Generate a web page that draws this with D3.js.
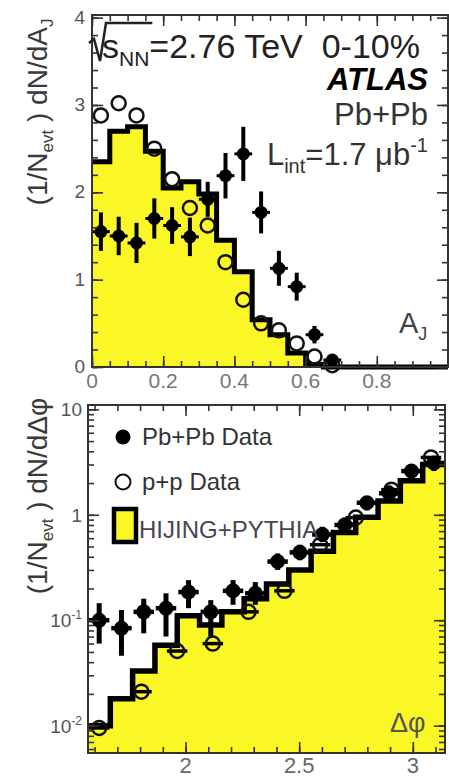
<!DOCTYPE html>
<html>
<head>
<meta charset="utf-8">
<script src="https://cdn.jsdelivr.net/npm/d3@7"></script>
<style>
  body { margin: 0; background: #fff; }
  text { font-family: "Liberation Sans", Arial, Helvetica, sans-serif; }
</style>
</head>
<body>
<svg id="vis" width="449" height="778"></svg>
<script>
// ---------- data: top panel, A_J ----------
var ajEdges = [0, 0.05, 0.1, 0.15, 0.2, 0.25, 0.3, 0.35, 0.4, 0.45, 0.5,
               0.55, 0.6, 0.65, 0.7, 0.75, 0.8, 0.85, 0.9, 0.95, 1.0];
var ajHijing = [2.35, 2.7, 2.75, 2.47, 2.05, 2.12, 1.98, 1.45, 1.09, 0.54, 0.37,
                0.16, 0.03, 0, 0, 0, 0, 0, 0, 0];
var ajCenters = [0.025, 0.075, 0.125, 0.175, 0.225, 0.275, 0.325, 0.375, 0.425,
                 0.475, 0.525, 0.575, 0.625, 0.675];
var ajPbPb    = [1.55, 1.5, 1.42, 1.7, 1.62, 1.49, 1.92, 2.19, 2.44, 1.77, 1.13, 0.92, 0.37, 0.08];
var ajPbPbErr = [0.22, 0.22, 0.23, 0.23, 0.21, 0.22, 0.2, 0.26, 0.31, 0.24, 0.2, 0.16, 0.1, 0.05];
var ajPP      = [2.88, 3.02, 2.88, 2.5, 2.15, 1.82, 1.62, 1.2, 0.77, 0.5, 0.42, 0.27, 0.12, 0.02];
var ajBinHalf = 0.025;
var ajXTicks = [0, 0.2, 0.4, 0.6, 0.8, 1.0];
var ajXLabels = ["0", "0.2", "0.4", "0.6", "0.8"];
var ajYTicks = [0, 1, 2, 3, 4];

// ---------- data: bottom panel, delta phi ----------
var dphiEdges = [1.5708, 1.6690, 1.7671, 1.8653, 1.9635, 2.0617, 2.1598, 2.2580, 2.3562,
                 2.4544, 2.5525, 2.6507, 2.7489, 2.8471, 2.9452, 3.0434, 3.1416];
var dphiHijing = [0.010, 0.018, 0.033, 0.058, 0.11, 0.09, 0.12, 0.16, 0.22, 0.30,
                  0.45, 0.68, 0.95, 1.35, 2.1, 3.0];
var dphiPbPbX  = [1.620, 1.718, 1.816, 1.914, 2.013, 2.111, 2.209, 2.307, 2.405, 2.503,
                  2.602, 2.700, 2.798, 2.896, 2.994, 3.093];
var dphiPbPb   = [0.10, 0.084, 0.12, 0.13, 0.185, 0.12, 0.19, 0.18, 0.36, 0.44,
                  0.65, 0.8, 1.3, 1.6, 2.6, 3.1];
var dphiPbPbLo = [0.06, 0.046, 0.075, 0.07, 0.13, 0.07, 0.14, 0.14, 0.30, 0.37,
                  0.55, 0.68, 1.1, 1.35, 2.2, 2.6];
var dphiPbPbHi = [0.145, 0.125, 0.16, 0.18, 0.24, 0.155, 0.24, 0.23, 0.43, 0.52,
                  0.77, 0.94, 1.5, 1.9, 3.0, 3.6];
var dphiPbPbHalf = 0.045;
var dphiPPX  = [1.62, 1.806, 1.963, 2.12, 2.277, 2.435, 2.592, 2.749, 2.906, 3.08];
var dphiPP   = [0.0095, 0.021, 0.051, 0.06, 0.12, 0.19, 0.52, 0.94, 1.73, 3.5];
var dphiPPHalf = 0.045;
var dphiXTicks = [2, 2.5, 3];
var dphiXLabels = ["2", "2.5", "3"];
var dphiYTicks = [0.01, 0.1, 1, 10];
var dphiYLabels = [["10", "-2"], ["10", "-1"], ["1", ""], ["10", ""]];

var yellow = "#fbf626";
var svg = d3.select("#vis");

// frame with inward ticks on all four sides
function frame(g, x, y, xMajor, xMinor, yMajor, yMinor) {
  var xr = x.range(), yr = y.range();
  function add(axis, tx, ty) {
    var a = g.append("g").attr("transform", "translate(" + tx + "," + ty + ")").call(axis);
    a.select(".domain").remove();
    a.selectAll("line").attr("stroke", "#333").attr("stroke-width", 1.6);
  }
  add(d3.axisBottom(x).tickValues(xMajor).tickSize(-11).tickFormat(""), 0, yr[0]);
  add(d3.axisBottom(x).tickValues(xMinor).tickSize(-6).tickFormat(""), 0, yr[0]);
  add(d3.axisTop(x).tickValues(xMajor).tickSize(-11).tickFormat(""), 0, yr[1]);
  add(d3.axisTop(x).tickValues(xMinor).tickSize(-6).tickFormat(""), 0, yr[1]);
  add(d3.axisLeft(y).tickValues(yMajor).tickSize(-11).tickFormat(""), xr[0], 0);
  add(d3.axisLeft(y).tickValues(yMinor).tickSize(-6).tickFormat(""), xr[0], 0);
  add(d3.axisRight(y).tickValues(yMajor).tickSize(-11).tickFormat(""), xr[1], 0);
  add(d3.axisRight(y).tickValues(yMinor).tickSize(-6).tickFormat(""), xr[1], 0);
  g.append("rect")
    .attr("x", xr[0]).attr("y", yr[1])
    .attr("width", xr[1] - xr[0]).attr("height", yr[0] - yr[1])
    .attr("fill", "none").attr("stroke", "#333").attr("stroke-width", 2);
}

function histPoints(edges, vals) {
  var pts = vals.map(function(v, i) { return [edges[i], v]; });
  pts.push([edges[edges.length - 1], vals[vals.length - 1]]);
  return pts;
}

function yTitle(g, cx, cy, last) {
  var t = g.append("text")
    .attr("transform", "translate(" + cx + "," + cy + ") rotate(-90)")
    .attr("text-anchor", "middle").attr("font-size", 28).attr("fill", "#3a3a3a");
  t.append("tspan").text("(1/N");
  t.append("tspan").attr("font-size", 17).attr("dy", 6).text("evt");
  t.append("tspan").attr("dy", -6).text(" ) dN/d" + last[0]);
  if (last[1]) t.append("tspan").attr("font-size", 17).attr("dy", 6).text(last[1]);
}

// ================= top panel =================
var xA = d3.scaleLinear().domain([0, 1]).range([92, 448]);
var yA = d3.scaleLinear().domain([0, 4.03]).range([367, 15]);
var gA = svg.append("g");
var ajHist = histPoints(ajEdges, ajHijing);

gA.append("path").datum(ajHist)
  .attr("d", d3.area().curve(d3.curveStepAfter)
    .x(function(d) { return xA(d[0]); }).y0(yA(0)).y1(function(d) { return yA(d[1]); }))
  .attr("fill", yellow);
gA.append("path").datum(ajHist)
  .attr("d", d3.line().curve(d3.curveStepAfter)
    .x(function(d) { return xA(d[0]); }).y(function(d) { return yA(d[1]); }))
  .attr("fill", "none").attr("stroke", "#000").attr("stroke-width", 5);

// p+p open circles
gA.selectAll("circle.pp").data(ajPP).enter().append("circle")
  .attr("cx", function(d, i) { return xA(ajCenters[i]); })
  .attr("cy", function(d) { return yA(d); })
  .attr("r", 7).attr("fill", "none").attr("stroke", "#111").attr("stroke-width", 2.5);

// Pb+Pb with error bars
var pbA = gA.selectAll("g.pb").data(ajPbPb).enter().append("g");
pbA.append("line")
  .attr("x1", function(d, i) { return xA(ajCenters[i]); })
  .attr("x2", function(d, i) { return xA(ajCenters[i]); })
  .attr("y1", function(d, i) { return yA(d - ajPbPbErr[i]); })
  .attr("y2", function(d, i) { return yA(d + ajPbPbErr[i]); })
  .attr("stroke", "#000").attr("stroke-width", 4);
pbA.append("line")
  .attr("x1", function(d, i) { return xA(ajCenters[i] - ajBinHalf); })
  .attr("x2", function(d, i) { return xA(ajCenters[i] + ajBinHalf); })
  .attr("y1", function(d) { return yA(d); })
  .attr("y2", function(d) { return yA(d); })
  .attr("stroke", "#000").attr("stroke-width", 3);
pbA.append("circle")
  .attr("cx", function(d, i) { return xA(ajCenters[i]); })
  .attr("cy", function(d) { return yA(d); })
  .attr("r", 6.5).attr("fill", "#000");

frame(gA, xA, yA, ajXTicks, xA.ticks(20), ajYTicks, yA.ticks(20));

gA.selectAll("text.xl").data(ajXLabels).enter().append("text")
  .attr("x", function(d, i) { return xA(ajXTicks[i]); }).attr("y", 388)
  .attr("text-anchor", "middle").attr("font-size", 21).attr("fill", "#777").text(function(d) { return d; });
gA.selectAll("text.yl").data(ajYTicks).enter().append("text")
  .attr("x", 85).attr("y", function(d) { return yA(d) + 6; })
  .attr("text-anchor", "end").attr("font-size", 19).attr("fill", "#555").text(function(d) { return d; });

// annotations: sqrt(s_NN) line with a drawn radical
var t1 = gA.append("text").attr("x", 102).attr("y", 58).attr("font-size", 34).attr("fill", "#222");
t1.append("tspan").text("s");
t1.append("tspan").attr("font-size", 21).attr("dy", 8).text("NN");
t1.append("tspan").attr("dy", -8).text("=2.76 TeV\u00A0\u00A00-10%");
var nnEnd = t1.node().getEndPositionOfChar(2).x;
gA.append("path")
  .attr("d", "M89,43 L94,39 L100,61 L106,23 H" + (nnEnd + 3))
  .attr("fill", "none").attr("stroke", "#222").attr("stroke-width", 2.5)
  .attr("stroke-linejoin", "miter");

gA.append("text").attr("x", 428).attr("y", 90).attr("text-anchor", "end")
  .attr("font-size", 31).attr("font-weight", "bold").attr("font-style", "italic").text("ATLAS");
gA.append("text").attr("x", 428).attr("y", 125).attr("text-anchor", "end")
  .attr("font-size", 31).attr("fill", "#333").text("Pb+Pb");
var t4 = gA.append("text").attr("x", 428).attr("y", 165).attr("text-anchor", "end")
  .attr("font-size", 31).attr("fill", "#333");
t4.append("tspan").text("L");
t4.append("tspan").attr("font-size", 20).attr("dy", 8).text("int");
t4.append("tspan").attr("dy", -8).text("=1.7 \u03BCb");
t4.append("tspan").attr("font-size", 20).attr("dy", -13).text("-1");
var t5 = gA.append("text").attr("x", 399).attr("y", 333).attr("font-size", 29).attr("fill", "#444");
t5.append("tspan").text("A");
t5.append("tspan").attr("font-size", 18).attr("dy", 7).text("J");

yTitle(gA, 47, 112, ["A", "J"]);

// ================= bottom panel =================
var xD = d3.scaleLinear().domain([Math.PI / 2, Math.PI]).range([88, 445]);
var yD = d3.scaleLog().domain([0.0055, 11]).range([753, 405]);
var gD = svg.append("g");
var dHist = histPoints(dphiEdges, dphiHijing);

gD.append("path").datum(dHist)
  .attr("d", d3.area().curve(d3.curveStepAfter)
    .x(function(d) { return xD(d[0]); }).y0(yD.range()[0]).y1(function(d) { return yD(d[1]); }))
  .attr("fill", yellow);
gD.append("path").datum(dHist)
  .attr("d", d3.line().curve(d3.curveStepAfter)
    .x(function(d) { return xD(d[0]); }).y(function(d) { return yD(d[1]); }))
  .attr("fill", "none").attr("stroke", "#000").attr("stroke-width", 5.5);

// p+p
var ppD = gD.selectAll("g.pp").data(dphiPP).enter().append("g");
ppD.append("line")
  .attr("x1", function(d, i) { return xD(dphiPPX[i] - dphiPPHalf); })
  .attr("x2", function(d, i) { return xD(dphiPPX[i] + dphiPPHalf); })
  .attr("y1", function(d) { return yD(d); }).attr("y2", function(d) { return yD(d); })
  .attr("stroke", "#000").attr("stroke-width", 3.5);
ppD.append("circle")
  .attr("cx", function(d, i) { return xD(dphiPPX[i]); })
  .attr("cy", function(d) { return yD(d); })
  .attr("r", 7).attr("fill", "none").attr("stroke", "#111").attr("stroke-width", 2.5);

// Pb+Pb
var pbD = gD.selectAll("g.pb").data(dphiPbPb).enter().append("g");
pbD.append("line")
  .attr("x1", function(d, i) { return xD(dphiPbPbX[i]); })
  .attr("x2", function(d, i) { return xD(dphiPbPbX[i]); })
  .attr("y1", function(d, i) { return yD(dphiPbPbLo[i]); })
  .attr("y2", function(d, i) { return yD(dphiPbPbHi[i]); })
  .attr("stroke", "#000").attr("stroke-width", 5);
pbD.append("line")
  .attr("x1", function(d, i) { return xD(dphiPbPbX[i] - dphiPbPbHalf); })
  .attr("x2", function(d, i) { return xD(dphiPbPbX[i] + dphiPbPbHalf); })
  .attr("y1", function(d) { return yD(d); }).attr("y2", function(d) { return yD(d); })
  .attr("stroke", "#000").attr("stroke-width", 4.5);
pbD.append("circle")
  .attr("cx", function(d, i) { return xD(dphiPbPbX[i]); })
  .attr("cy", function(d) { return yD(d); })
  .attr("r", 7.5).attr("fill", "#000");

frame(gD, xD, yD, dphiXTicks, xD.ticks(15), dphiYTicks, yD.ticks());

gD.selectAll("text.xl").data(dphiXLabels).enter().append("text")
  .attr("x", function(d, i) { return xD(dphiXTicks[i]); }).attr("y", 773)
  .attr("text-anchor", "middle").attr("font-size", 22).attr("fill", "#666").text(function(d) { return d; });
dphiYLabels.forEach(function(lab, i) {
  var t = gD.append("text").attr("x", 82).attr("y", yD(dphiYTicks[i]) + 7)
    .attr("text-anchor", "end").attr("font-size", 19).attr("fill", "#555");
  t.append("tspan").text(lab[0]);
  if (lab[1]) t.append("tspan").attr("font-size", 12).attr("dy", -8).text(lab[1]);
});

// legend
gD.append("circle").attr("cx", 123).attr("cy", 437).attr("r", 7.5).attr("fill", "#000");
gD.append("text").attr("x", 142).attr("y", 445).attr("font-size", 24).attr("fill", "#333").text("Pb+Pb Data");
gD.append("circle").attr("cx", 123).attr("cy", 482).attr("r", 7.5)
  .attr("fill", "none").attr("stroke", "#111").attr("stroke-width", 2);
gD.append("text").attr("x", 142).attr("y", 490).attr("font-size", 24).attr("fill", "#333").text("p+p Data");
gD.append("rect").attr("x", 114).attr("y", 509).attr("width", 22).attr("height", 33)
  .attr("fill", yellow).attr("stroke", "#000").attr("stroke-width", 4.5);
gD.append("text").attr("x", 139).attr("y", 538).attr("font-size", 24).attr("fill", "#4a4550").text("HIJING+PYTHIA");

gD.append("text").attr("x", 390).attr("y", 732).attr("font-size", 27).attr("fill", "#555").text("\u0394\u03C6");

yTitle(gD, 47, 496, ["\u0394\u03C6", ""]);
</script>
</body>
</html>
